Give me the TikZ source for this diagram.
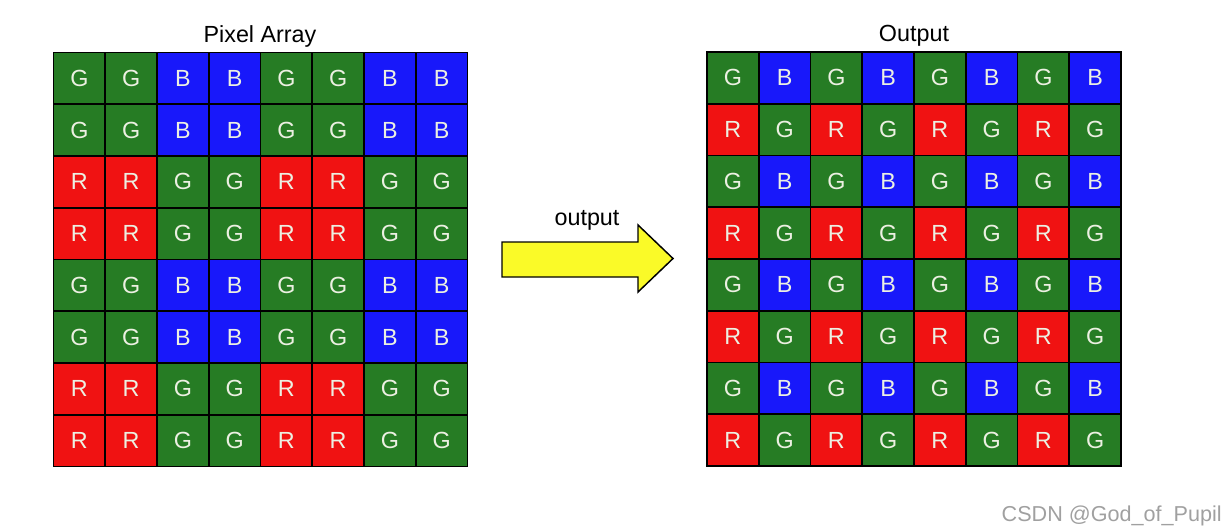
\documentclass[tikz,border=0pt]{standalone}
\usepackage{fontspec}
\setmainfont{Liberation Sans}
\definecolor{cG}{RGB}{38,124,36}
\definecolor{cB}{RGB}{24,24,250}
\definecolor{cR}{RGB}{240,18,18}
\definecolor{ctxt}{RGB}{236,240,226}
\definecolor{carrow}{RGB}{250,250,40}
\definecolor{cwm}{RGB}{160,160,160}
\tikzset{
  cellbox/.style={draw=black, line width=1.2pt, minimum size=38.8pt, inner sep=0pt,
    text=ctxt, font=\fontsize{17.5}{18}\selectfont},
  titletext/.style={font=\fontsize{17.5}{20}\selectfont, text=black},
  blockarrow/.style={draw=black, line width=1.1pt, fill=carrow, line join=miter}
}
\begin{document}
\begin{tikzpicture}[x=0.75pt, y=-0.75pt]
\useasboundingbox (0,0) rectangle (1226,531);
% left grid
\foreach \rowlist [count=\r from 0] in {
  {G,G,B,B,G,G,B,B},{G,G,B,B,G,G,B,B},{R,R,G,G,R,R,G,G},{R,R,G,G,R,R,G,G},
  {G,G,B,B,G,G,B,B},{G,G,B,B,G,G,B,B},{R,R,G,G,R,R,G,G},{R,R,G,G,R,R,G,G}} {
  \foreach \l [count=\c from 0] in \rowlist {
    \node[cellbox, fill=c\l] (L-\r-\c) at ({53.5+51.75*(\c+0.5)}, {52.5+51.75*(\r+0.5)}) {\l};
  }
}
% right grid
\foreach \rowlist [count=\r from 0] in {
  {G,B,G,B,G,B,G,B},{R,G,R,G,R,G,R,G},{G,B,G,B,G,B,G,B},{R,G,R,G,R,G,R,G},
  {G,B,G,B,G,B,G,B},{R,G,R,G,R,G,R,G},{G,B,G,B,G,B,G,B},{R,G,R,G,R,G,R,G}} {
  \foreach \l [count=\c from 0] in \rowlist {
    \node[cellbox, fill=c\l] (O-\r-\c) at ({707+51.75*(\c+0.5)}, {52+51.75*(\r+0.5)}) {\l};
  }
}
% titles
\node[titletext] (t1) at (260,36) {Pixel Array};
\node[titletext] (t2) at (914,36) {Output};
% block arrow
\draw[blockarrow] (502,242) -- (638,242) -- (638,225) -- (673,258.5) -- (638,292) -- (638,277) -- (502,277) -- cycle;
\node[titletext] (t3) at (587,220) {output};
% watermark
\node[anchor=base east, inner sep=0pt, text=cwm, font=\fontsize{16.2}{18}\selectfont] (wm) at (1222,521) {CSDN @God\_of\_Pupil};
\end{tikzpicture}
\end{document}
